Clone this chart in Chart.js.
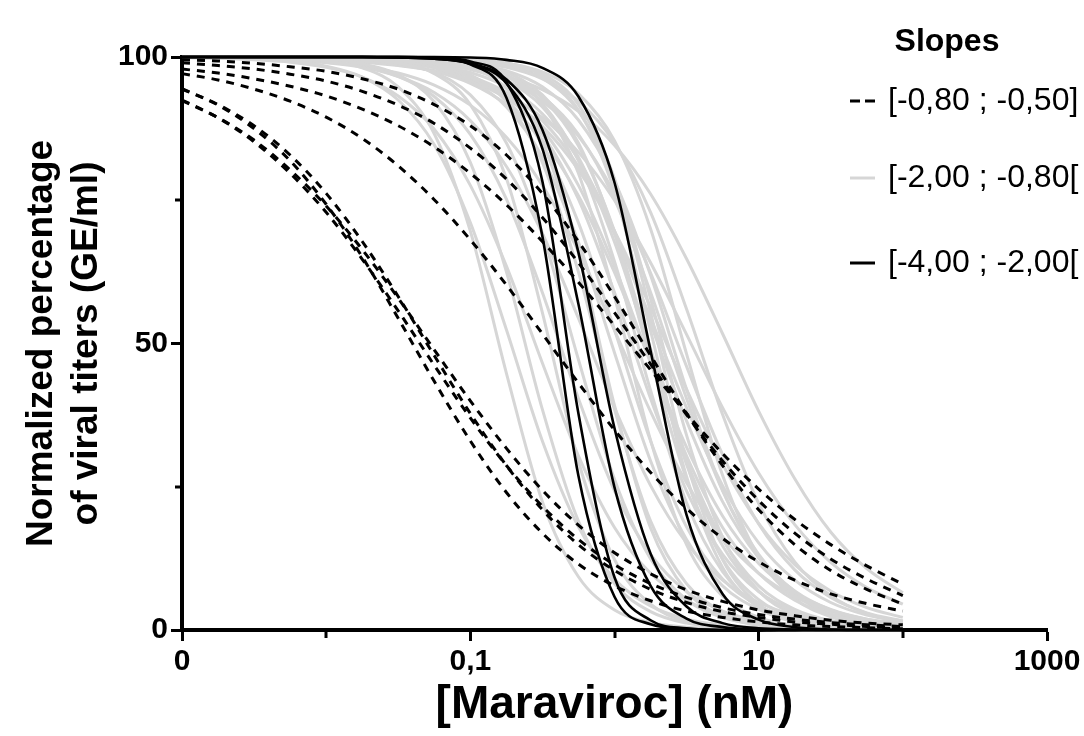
<!DOCTYPE html>
<html>
<head>
<meta charset="utf-8">
<script src="https://cdn.jsdelivr.net/npm/chart.js@4.4.1/dist/chart.umd.min.js"></script>
<style>
  body { margin: 0; background: #fff; }
  #wrap { width: 1084px; height: 736px; }
</style>
</head>
<body>
<div id="wrap"><canvas id="c" width="1084" height="736"></canvas></div>
<script>
var doses = [0.001, 0.00178, 0.00316, 0.00562, 0.01, 0.0178, 0.0316, 0.0562, 0.1, 0.178, 0.316,
             0.562, 1, 1.78, 3.16, 5.62, 10, 17.8, 31.6, 56.2, 100];

// slopes [-0,80 ; -0,50]  (dashed)
var shallowCurves = [
  [99.5, 99.3, 98.9, 98.3, 97.5, 96.2, 94.4, 91.7, 88.0, 82.9, 76.2, 67.8, 58.2, 47.9, 37.8, 28.7, 21.0, 14.9, 10.4, 7.1, 4.5],
  [99.0, 98.5, 97.9, 97.0, 95.8, 94.0, 91.6, 88.4, 84.1, 78.7, 72.0, 64.1, 55.4, 46.4, 37.6, 29.5, 22.6, 16.9, 12.4, 8.9, 6.0],
  [97.9, 97.2, 96.2, 94.9, 93.2, 90.9, 88.0, 84.3, 79.7, 74.2, 67.8, 60.7, 53.1, 45.4, 37.8, 30.8, 24.6, 19.3, 14.9, 11.2, 8.0],
  [97.1, 96.0, 94.4, 92.3, 89.5, 85.8, 81.0, 75.1, 68.1, 60.2, 51.7, 43.1, 34.9, 27.5, 21.2, 16.0, 11.9, 8.7, 6.3, 4.6, 3.3],
  [94.5, 91.6, 87.5, 81.9, 74.3, 65.1, 54.4, 43.4, 33.0, 24.0, 16.9, 11.5, 7.7, 5.1, 3.3, 2.2, 1.4, 0.9, 0.6, 0.4, 0.2],
  [94.4, 91.7, 88.0, 82.9, 76.2, 67.8, 58.2, 47.9, 37.8, 28.7, 21.0, 14.9, 10.4, 7.1, 4.8, 3.2, 2.2, 1.4, 1.0, 0.6, 0.4],
  [92.5, 89.4, 85.2, 79.7, 72.9, 64.7, 55.7, 46.2, 37.0, 28.7, 21.6, 15.8, 11.4, 8.1, 5.7, 3.9, 2.7, 1.9, 1.3, 0.9, 0.6],
  [92.4, 89.4, 85.5, 80.3, 74.0, 66.4, 57.9, 48.9, 40.0, 31.7, 24.4, 18.3, 13.5, 9.8, 7.0, 5.0, 3.5, 2.5, 1.7, 1.2, 0.9]
];

// slopes [-2,00 ; -0,80[  (light grey)
var mediumCurves = [
  [100, 100, 99.9, 99.8, 99.3, 98.1, 94.8, 86.6, 69.6, 44.8, 22.4, 9.3, 3.5, 1.3, 0.5, 0.2, 0.1, 0, 0, 0, 0],
  [99.9, 99.9, 99.7, 99.3, 98.4, 96.5, 92.5, 84.7, 71.1, 52.4, 33.0, 18.0, 8.9, 4.2, 1.9, 0.9, 0.4, 0.2, 0.1, 0, 0],
  [100, 100, 99.9, 99.8, 99.6, 98.8, 96.9, 92.2, 81.6, 62.5, 38.5, 19.0, 8.1, 3.2, 1.2, 0.5, 0.2, 0.1, 0, 0, 0],
  [99.9, 99.8, 99.5, 99.1, 98.2, 96.5, 93.2, 87.4, 77.6, 63.5, 46.6, 30.4, 17.9, 9.9, 5.2, 2.7, 1.4, 0.7, 0.3, 0.2, 0.1],
  [100, 100, 100, 100, 99.9, 99.7, 99.0, 97.1, 91.7, 78.8, 55.4, 29.4, 12.3, 4.5, 1.5, 0.5, 0.2, 0.1, 0, 0, 0],
  [100, 99.9, 99.8, 99.6, 99.2, 98.4, 96.6, 93.1, 86.5, 75.2, 58.9, 40.4, 24.3, 13.2, 6.7, 3.3, 1.6, 0.8, 0.4, 0.2, 0.1],
  [100, 100, 100, 99.9, 99.8, 99.6, 98.9, 97.3, 93.4, 85.0, 69.2, 47.2, 26.3, 12.4, 5.3, 2.2, 0.9, 0.4, 0.1, 0.1, 0],
  [99.9, 99.9, 99.7, 99.5, 99.0, 98.2, 96.6, 93.8, 88.9, 80.9, 69.2, 54.4, 38.8, 25.2, 15.2, 8.7, 4.8, 2.6, 1.4, 0.7, 0.4],
  [100, 100, 100, 100, 99.9, 99.8, 99.6, 98.8, 96.9, 92.2, 81.6, 62.5, 38.5, 19.0, 8.1, 3.2, 1.2, 0.5, 0.2, 0.1, 0],
  [100, 100, 100, 100, 100, 99.9, 99.8, 99.4, 98.1, 94.5, 85.2, 65.8, 39.2, 17.8, 6.8, 2.4, 0.8, 0.3, 0.1, 0, 0],
  [100, 100, 100, 99.9, 99.9, 99.7, 99.3, 98.4, 96.5, 92.5, 84.7, 71.1, 52.4, 33.0, 18.0, 8.9, 4.2, 1.9, 0.9, 0.4, 0.2],
  [100, 100, 100, 99.9, 99.8, 99.6, 99.2, 98.1, 95.9, 91.3, 82.5, 67.7, 48.4, 29.5, 15.8, 7.7, 3.6, 1.6, 0.7, 0.3, 0.1],
  [99.9, 99.8, 99.7, 99.5, 99.1, 98.4, 97.2, 95.1, 91.6, 86.0, 77.6, 66.1, 52.3, 38.1, 25.7, 16.3, 9.9, 5.8, 3.4, 1.9, 1.1],
  [100, 100, 100, 100, 100, 100, 99.9, 99.6, 98.9, 96.9, 91.7, 79.7, 58.2, 33.1, 14.9, 5.9, 2.2, 0.8, 0.3, 0.1, 0],
  [100, 100, 100, 99.9, 99.8, 99.6, 99.2, 98.4, 96.6, 93.1, 86.5, 75.2, 58.9, 40.4, 24.3, 13.2, 6.7, 3.3, 1.6, 0.8, 0.4],
  [100, 100, 100, 100, 100, 99.9, 99.8, 99.4, 98.6, 96.6, 91.9, 81.9, 64.3, 41.8, 22.2, 10.2, 4.3, 1.8, 0.7, 0.3, 0.1],
  [100, 100, 100, 99.9, 99.8, 99.5, 99.1, 98.2, 96.5, 93.2, 87.4, 77.6, 63.5, 46.6, 30.4, 17.9, 9.9, 5.2, 2.7, 1.4, 0.7],
  [100, 99.9, 99.9, 99.8, 99.6, 99.3, 98.7, 97.5, 95.4, 91.7, 85.5, 75.8, 62.4, 46.8, 31.9, 19.9, 11.6, 6.5, 3.6, 1.9, 1.0],
  [100, 100, 100, 100, 100, 99.9, 99.8, 99.6, 98.9, 97.3, 93.4, 85.0, 69.2, 47.2, 26.3, 12.4, 5.3, 2.2, 0.9, 0.4, 0.1],
  [100, 100, 100, 100, 99.9, 99.8, 99.6, 99.2, 98.1, 95.9, 91.3, 82.5, 67.7, 48.4, 29.5, 15.8, 7.7, 3.6, 1.6, 0.7, 0.3],
  [100, 100, 100, 100, 100, 99.9, 99.8, 99.4, 98.6, 96.8, 92.8, 84.5, 69.6, 49.1, 28.9, 14.7, 6.8, 3.0, 1.3, 0.5, 0.2],
  [100, 100, 100, 100, 100, 100, 100, 99.9, 99.6, 98.9, 96.7, 90.7, 76.5, 52.2, 26.8, 10.9, 3.9, 1.4, 0.5, 0.2, 0.1],
  [100, 100, 100, 99.9, 99.8, 99.7, 99.3, 98.6, 97.3, 94.8, 90.1, 82.1, 69.6, 53.4, 36.5, 22.4, 12.6, 6.8, 3.5, 1.8, 0.9],
  [100, 100, 100, 100, 100, 100, 100, 99.9, 99.7, 99.0, 97.1, 91.7, 78.8, 55.4, 29.4, 12.3, 4.5, 1.5, 0.5, 0.2, 0.1],
  [100, 100, 99.9, 99.9, 99.7, 99.5, 99.0, 98.2, 96.6, 93.8, 88.9, 80.9, 69.2, 54.4, 38.8, 25.2, 15.2, 8.7, 4.8, 2.6, 1.4],
  [100, 100, 100, 100, 100, 100, 99.9, 99.8, 99.5, 98.6, 96.3, 90.6, 78.4, 57.8, 34.0, 16.2, 6.8, 2.7, 1.0, 0.4, 0.1],
  [100, 99.9, 99.9, 99.8, 99.6, 99.2, 98.6, 97.6, 95.8, 92.8, 87.9, 80.3, 69.6, 56.3, 42.0, 28.9, 18.6, 11.4, 6.8, 3.9, 2.2],
  [100, 100, 100, 100, 99.9, 99.8, 99.6, 99.2, 98.4, 96.6, 93.1, 86.5, 75.2, 58.9, 40.4, 24.3, 13.2, 6.7, 3.3, 1.6, 0.8],
  [100, 100, 100, 100, 100, 99.9, 99.8, 99.5, 98.9, 97.6, 94.8, 89.0, 78.4, 61.9, 42.0, 24.4, 12.6, 6.1, 2.8, 1.3, 0.6],
  [100, 100, 100, 99.9, 99.8, 99.7, 99.4, 98.9, 97.8, 95.9, 92.3, 86.2, 76.2, 62.3, 46.0, 30.6, 18.5, 10.5, 5.7, 3.0, 1.6],
  [100, 100, 100, 100, 100, 100, 99.9, 99.8, 99.6, 98.9, 97.4, 93.6, 85.4, 70.0, 48.2, 27.0, 12.8, 5.5, 2.3, 0.9, 0.4],
  [99.9, 99.9, 99.8, 99.7, 99.5, 99.1, 98.5, 97.6, 96.0, 93.4, 89.4, 83.4, 75.0, 64.1, 51.6, 38.8, 27.4, 18.4, 11.8, 7.4, 4.5],
  [100, 100, 100, 100, 100, 99.9, 99.8, 99.6, 99.1, 98.2, 96.2, 92.3, 85.0, 72.9, 56.0, 37.6, 22.1, 11.9, 6.0, 2.9, 1.4],
  [100, 100, 99.9, 99.9, 99.8, 99.6, 99.3, 98.8, 98.0, 96.6, 94.3, 90.5, 84.6, 76.1, 64.8, 51.7, 38.2, 26.4, 17.1, 10.7, 6.5]
];

// slopes [-4,00 ; -2,00[  (solid black)
var steepCurves = [
  [100, 100, 100, 100, 100, 100, 100, 99.8, 98.7, 92.9, 68.7, 26.9, 5.8, 1.0, 0.2, 0, 0, 0, 0, 0, 0],
  [100, 100, 100, 100, 100, 100, 100, 99.9, 99.2, 95.6, 78.3, 37.8, 9.2, 1.7, 0.3, 0, 0, 0, 0, 0, 0],
  [100, 100, 100, 100, 100, 100, 99.9, 99.7, 98.8, 95.4, 84.0, 56.9, 24.9, 7.7, 2.0, 0.5, 0.1, 0, 0, 0, 0],
  [100, 100, 100, 100, 100, 100, 99.9, 99.7, 98.9, 96.1, 87.3, 65.9, 35.2, 13.3, 4.1, 1.2, 0.3, 0.1, 0, 0, 0],
  [100, 100, 100, 100, 100, 100, 100, 100, 99.9, 99.5, 98.1, 93.1, 78.1, 48.7, 20.1, 6.3, 1.8, 0.5, 0.1, 0, 0]
];

var xTicks = [0.001, 0.01, 0.1, 1, 10, 100, 1000];
var xTickLabels = ['0', '', '0,1', '', '10', '', '1000'];
var yTicks = [0, 25, 50, 75, 100];
var yTickLabels = ['0', '', '50', '', '100'];
var legendTitle = 'Slopes';
var legendLabels = ['[-0,80 ; -0,50]', '[-2,00 ; -0,80[', '[-4,00 ; -2,00['];

var FONT = '"Liberation Sans", Arial, Helvetica, sans-serif';
var GREY = '#d6d6d6';
Chart.defaults.font.family = FONT;
Chart.defaults.color = '#000';

function pts(vals) {
  return vals.map(function (v, i) { return { x: doses[i], y: v }; });
}

var datasets = [];
steepCurves.forEach(function (c) {
  datasets.push({ data: pts(c), borderColor: '#000', borderWidth: 2.6, order: 0 });
});
shallowCurves.forEach(function (c) {
  datasets.push({ data: pts(c), borderColor: '#000', borderWidth: 3, borderDash: [8, 7], order: 1 });
});
mediumCurves.forEach(function (c) {
  datasets.push({ data: pts(c), borderColor: GREY, borderWidth: 3, order: 2 });
});
datasets.forEach(function (d) {
  d.pointRadius = 0; d.fill = false; d.cubicInterpolationMode = 'monotone'; d.clip = 8;
});

// minor ticks (shorter) and the legend block on the right
var extras = {
  id: 'extras',
  afterDraw: function (chart) {
    var ctx = chart.ctx, xs = chart.scales.x, ys = chart.scales.y, a = chart.chartArea;
    ctx.save();
    ctx.strokeStyle = '#000'; ctx.lineWidth = 3;
    xTicks.forEach(function (v, i) {
      if (xTickLabels[i] !== '') return;
      var px = Math.round(xs.getPixelForValue(v));
      ctx.beginPath(); ctx.moveTo(px, a.bottom); ctx.lineTo(px, a.bottom + 8); ctx.stroke();
    });
    yTicks.forEach(function (v, i) {
      if (yTickLabels[i] !== '') return;
      var py = Math.round(ys.getPixelForValue(v));
      ctx.beginPath(); ctx.moveTo(a.left, py); ctx.lineTo(a.left - 7, py); ctx.stroke();
    });

    ctx.fillStyle = '#000';
    ctx.textBaseline = 'middle';
    ctx.textAlign = 'center';
    ctx.font = 'bold 32px ' + FONT;
    ctx.fillText(legendTitle, 947, 42);

    var rows = [101, 178, 263];
    ctx.font = '32px ' + FONT;
    ctx.textAlign = 'left';
    legendLabels.forEach(function (t, i) {
      var y = rows[i];
      ctx.beginPath();
      ctx.lineWidth = 3;
      if (i === 0) { ctx.setLineDash([10, 5]); ctx.strokeStyle = '#000'; }
      else if (i === 1) { ctx.setLineDash([]); ctx.strokeStyle = GREY; }
      else { ctx.setLineDash([]); ctx.strokeStyle = '#000'; }
      ctx.moveTo(850, y); ctx.lineTo(875, y); ctx.stroke();
      ctx.setLineDash([]);
      ctx.fillText(t, 888, y);
    });
    ctx.restore();
  }
};

new Chart(document.getElementById('c').getContext('2d'), {
  type: 'line',
  data: { datasets: datasets },
  options: {
    responsive: false,
    animation: false,
    devicePixelRatio: 1,
    layout: { padding: { left: 0, top: 57, right: 37, bottom: 0 } },
    plugins: { legend: { display: false }, tooltip: { enabled: false } },
    scales: {
      x: {
        type: 'logarithmic', min: 0.001, max: 1000,
        afterBuildTicks: function (s) { s.ticks = xTicks.map(function (v) { return { value: v }; }); },
        afterFit: function (s) { s.height = 106; },
        ticks: {
          autoSkip: false, maxRotation: 0, padding: 3,
          font: { size: 30, weight: 'bold' },
          callback: function (v, i) { return xTickLabels[i]; }
        },
        grid: {
          drawOnChartArea: false, drawTicks: true, tickLength: 11, tickWidth: 3,
          tickColor: function (c) { return xTickLabels[c.index] !== '' ? '#000' : 'rgba(0,0,0,0)'; }
        },
        border: { display: true, color: '#000', width: 4 },
        title: {
          display: true, text: '[Maraviroc] (nM)',
          font: { size: 46, weight: 'bold' }, padding: { top: 0, bottom: 3 }
        }
      },
      y: {
        type: 'linear', min: 0, max: 100,
        afterBuildTicks: function (s) { s.ticks = yTicks.map(function (v) { return { value: v }; }); },
        afterFit: function (s) { s.width = 182; },
        ticks: {
          padding: 3,
          font: { size: 30, weight: 'bold' },
          callback: function (v, i) { return yTickLabels[i]; }
        },
        grid: {
          drawOnChartArea: false, drawTicks: true, tickLength: 11, tickWidth: 3,
          tickColor: function (c) { return yTickLabels[c.index] !== '' ? '#000' : 'rgba(0,0,0,0)'; }
        },
        border: { display: true, color: '#000', width: 4 },
        title: {
          display: true, text: ['Normalized percentage', 'of viral titers (GE/ml)'],
          font: { size: 37, weight: 'bold' }, padding: { top: 20, bottom: 0 }
        }
      }
    }
  },
  plugins: [extras]
});
</script>
</body>
</html>
